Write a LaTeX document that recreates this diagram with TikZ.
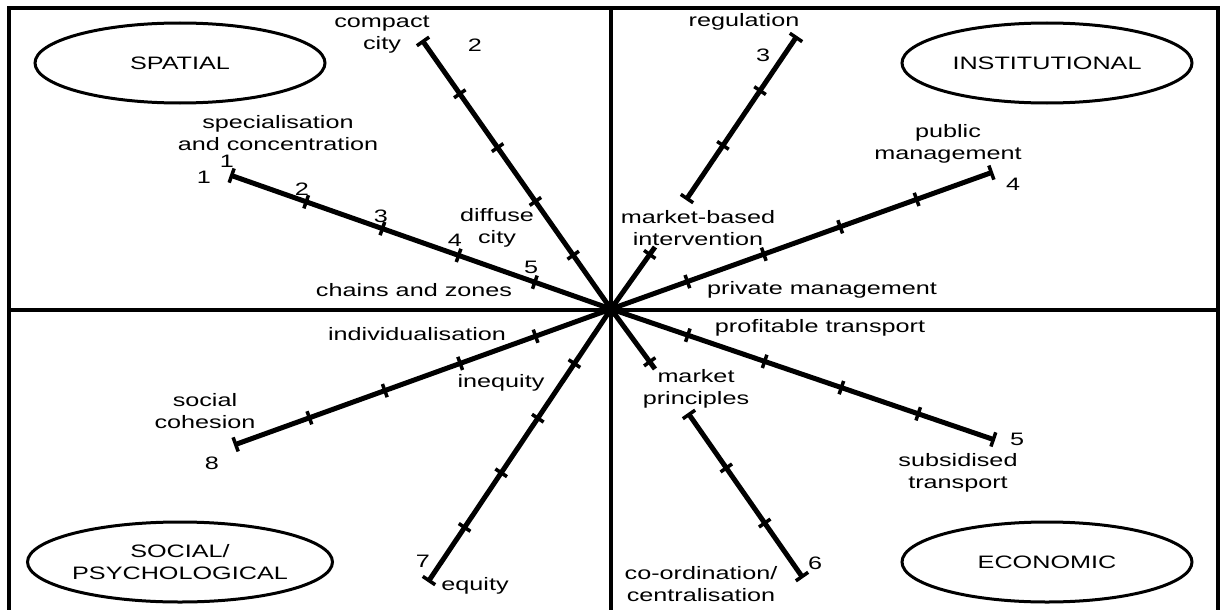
\documentclass[tikz,border=0pt]{standalone}
\usepackage{fontspec}
\setmainfont[FakeStretch=1.4]{Liberation Sans}
\usetikzlibrary{arrows.meta,shapes.geometric}
\tikzset{
  ray/.style={line width=5pt, -{Bar[width=15pt,line width=3.5pt]}},
  seg/.style={line width=5pt, {Bar[width=15pt,line width=3.5pt]}-{Bar[width=15pt,line width=3.5pt]}},
  tickmark/.style={draw, line width=3.5pt, sloped, minimum width=0pt, minimum height=14pt, inner sep=0pt, outer sep=0pt},
  lbl/.style={font=\fontsize{18}{22}\selectfont, align=center, inner sep=0pt},
  cat/.style={ellipse, draw, line width=3pt, minimum width=290pt, minimum height=80pt, lbl}
}

\begin{document}
\begin{tikzpicture}[x=1pt, y=-1pt]
    \useasboundingbox (0,0) rectangle (1220,610);
    % frame and quadrants
    \draw[line width=3.5pt] (9,8) rectangle (1218,616);
    \draw[line width=3.5pt] (611,8) -- (611,616);
    \draw[line width=3.5pt] (9,310) -- (1218,310);

    % categories
    \node[cat] (spatial) at (180,63) {SPATIAL};
    \node[cat] (institutional) at (1047,63) {INSTITUTIONAL};
    \node[cat] (social) at (180,562) {SOCIAL/\\PSYCHOLOGICAL};
    \node[cat] (economic) at (1047,562) {ECONOMIC};

    % ray ends
    \coordinate (hub) at (611,309);
    \coordinate (specEnd) at (230,175);
    \coordinate (compactEnd) at (422,40);
    \coordinate (mbiEnd) at (655,247);
    \coordinate (regLow) at (686,200);
    \coordinate (regTop) at (797,36);
    \coordinate (pubEnd) at (993,172);
    \coordinate (subEnd) at (995,440);
    \coordinate (mpEnd) at (655,369);
    \coordinate (coTop) at (688,413);
    \coordinate (coLow) at (803,578);
    \coordinate (eqEnd) at (428,582);
    \coordinate (cohEnd) at (234,445);

    % rays
    \draw[ray] (hub) -- (specEnd)
      node[pos=.2,tickmark]{} node[pos=.4,tickmark]{} node[pos=.6,tickmark]{} node[pos=.8,tickmark]{};
    \draw[ray] (hub) -- (compactEnd)
      node[pos=.2,tickmark]{} node[pos=.4,tickmark]{} node[pos=.6,tickmark]{} node[pos=.8,tickmark]{};
    \draw[line width=5pt] (hub) -- (mbiEnd) node[pos=.88,tickmark]{};
    \draw[seg] (regLow) -- (regTop)
      node[pos=.333,tickmark]{} node[pos=.667,tickmark]{};
    \draw[ray] (hub) -- (pubEnd)
      node[pos=.2,tickmark]{} node[pos=.4,tickmark]{} node[pos=.6,tickmark]{} node[pos=.8,tickmark]{};
    \draw[ray] (hub) -- (subEnd)
      node[pos=.2,tickmark]{} node[pos=.4,tickmark]{} node[pos=.6,tickmark]{} node[pos=.8,tickmark]{};
    \draw[line width=5pt] (hub) -- (mpEnd) node[pos=.88,tickmark]{};
    \draw[seg] (coTop) -- (coLow)
      node[pos=.333,tickmark]{} node[pos=.667,tickmark]{};
    \draw[ray] (hub) -- (eqEnd)
      node[pos=.2,tickmark]{} node[pos=.4,tickmark]{} node[pos=.6,tickmark]{} node[pos=.8,tickmark]{};
    \draw[ray] (hub) -- (cohEnd)
      node[pos=.2,tickmark]{} node[pos=.4,tickmark]{} node[pos=.6,tickmark]{} node[pos=.8,tickmark]{};
    \fill (hub) circle (8pt);

    % spatial labels
    \node[lbl] (specLbl) at (278,133) {specialisation\\and concentration};
    \node[lbl] (specA) at (227,161) {1};
    \node[lbl] (specB) at (204,177) {1};
    \node[lbl] (spec2) at (302,189) {2};
    \node[lbl] (spec3) at (381,216) {3};
    \node[lbl] (spec4) at (455,240) {4};
    \node[lbl] (spec5) at (531,267) {5};
    \node[lbl] (compactLbl) at (382,35) {compact\\city};
    \node[lbl] (compact2) at (475,45) {2};
    \node[lbl] (diffuseLbl) at (497,228) {diffuse\\city};
    \node[lbl] (chainsLbl) at (414,290) {chains and zones};

    % institutional labels
    \node[lbl] (regLbl) at (744,22) {regulation};
    \node[lbl] (reg3) at (763,55) {3};
    \node[lbl] (pubLbl) at (948,144) {public\\management};
    \node[lbl] (pub4) at (1013,184) {4};
    \node[lbl] (mbiLbl) at (698,228) {market-based\\intervention};
    \node[lbl] (privLbl) at (822,290) {private management};

    % social labels
    \node[lbl] (indLbl) at (417,334) {individualisation};
    \node[lbl] (ineqLbl) at (501,383) {inequity};
    \node[lbl] (cohLbl) at (205,411) {social\\cohesion};
    \node[lbl] (coh8) at (212,463) {8};
    \node[lbl] (eq7) at (423,561) {7};
    \node[lbl] (eqLbl) at (475,586) {equity};

    % economic labels
    \node[lbl] (profLbl) at (820,328) {profitable transport};
    \node[lbl] (mpLbl) at (696,389) {market\\principles};
    \node[lbl] (sub5) at (1017,439) {5};
    \node[lbl] (subLbl) at (958,473) {subsidised\\transport};
    \node[lbl] (co6) at (815,563) {6};
    \node[lbl] (coLbl) at (701,584) {co-ordination/\\centralisation};
  \end{tikzpicture}
\end{document}
